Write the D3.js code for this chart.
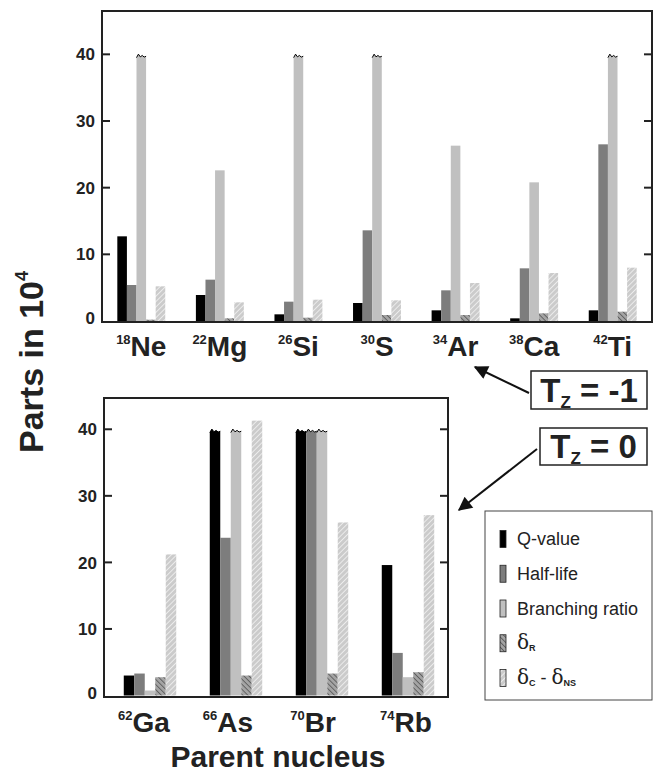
<!DOCTYPE html>
<html><head><meta charset="utf-8">
<script src="https://cdn.jsdelivr.net/npm/d3@7"></script>
<style>body{margin:0;background:#fff}svg{display:block}text{font-family:"Liberation Sans",Arial,sans-serif}</style>
</head><body>
<svg id="c" width="655" height="773"></svg>
<script>
// ---------- data ----------
const series = ["Q-value", "Half-life", "Branching ratio", "dR", "dC"];
const topMass = ["18", "22", "26", "30", "34", "38", "42"];
const topElem = ["Ne", "Mg", "Si", "S", "Ar", "Ca", "Ti"];
const topQ      = [12.7, 3.9, 1.0, 2.7, 1.6, 0.4, 1.6];
const topHalf   = [5.4, 6.2, 2.9, 13.6, 4.6, 7.9, 26.5];
const topBranch = [40, 22.6, 40, 40, 26.3, 20.8, 40];
const topDR     = [0.2, 0.4, 0.5, 0.9, 0.9, 1.15, 1.4];
const topDC     = [5.2, 2.8, 3.2, 3.1, 5.7, 7.2, 8.0];
// bars that run off the scale (drawn with a break mark)
const topOff = [["Ne", "Branching ratio"], ["Si", "Branching ratio"], ["S", "Branching ratio"], ["Ti", "Branching ratio"]];

const botMass = ["62", "66", "70", "74"];
const botElem = ["Ga", "As", "Br", "Rb"];
const botQ      = [3.0, 40, 40, 19.6];
const botHalf   = [3.3, 23.7, 40, 6.4];
const botBranch = [0.75, 40, 40, 2.75];
const botDR     = [2.75, 3.0, 3.3, 3.5];
const botDC     = [21.2, 41.3, 26.0, 27.1];
const botOff = [["As", "Q-value"], ["As", "Branching ratio"], ["Br", "Q-value"], ["Br", "Half-life"], ["Br", "Branching ratio"]];

const yTicks = [0, 10, 20, 30, 40];

// ---------- drawing ----------
const svg = d3.select("#c");
const defs = svg.append("defs");
function hatch(id, bg, fg, angle, sw, gap) {
  const p = defs.append("pattern").attr("id", id).attr("patternUnits", "userSpaceOnUse")
    .attr("width", gap).attr("height", gap).attr("patternTransform", `rotate(${angle})`);
  p.append("rect").attr("width", gap).attr("height", gap).attr("fill", bg);
  p.append("line").attr("x1", 0).attr("y1", 0).attr("x2", 0).attr("y2", gap)
    .attr("stroke", fg).attr("stroke-width", sw);
}
hatch("hR", "#a4a4a4", "#3a3a3a", -45, 1.2, 3.6);
hatch("hC", "#cbcbcb", "#f6f6f6", 45, 1.5, 3.8);
const fills = {"Q-value": "#000", "Half-life": "#7d7d7d", "Branching ratio": "#c0c0c0", "dR": "url(#hR)", "dC": "url(#hC)"};

function panel(o) {
  const g = svg.append("g");
  const x0 = d3.scaleBand().domain(o.elem).range(o.barRange).paddingInner(0.39).paddingOuter(0.195);
  const x1 = d3.scaleBand().domain(series).range([0, x0.bandwidth()]);
  const y = d3.scaleLinear().domain(o.yDomain).range([o.base, o.top]);
  const vals = {"Q-value": o.q, "Half-life": o.half, "Branching ratio": o.branch, "dR": o.dr, "dC": o.dc};
  const rows = [];
  o.elem.forEach((e, i) => series.forEach(s => {
    rows.push({e, s, v: vals[s][i], off: o.off.some(d => d[0] === e && d[1] === s)});
  }));
  const bw = x1.bandwidth();
  rows.forEach(d => {
    const xa = x0(d.e) + x1(d.s), xb = xa + bw;
    if (!d.off) {
      g.append("rect").attr("x", xa).attr("y", y(d.v)).attr("width", bw)
        .attr("height", y(0) - y(d.v)).attr("fill", fills[d.s]);
    } else {
      const yt = y(d.v - 0.5);
      const zz = [[xa, yt], [xa + bw * 0.2, yt - 3.5], [xa + bw * 0.4, yt - 0.8], [xa + bw * 0.6, yt - 2.2], [xa + bw * 0.8, yt - 0.6], [xb, yt - 1.4]];
      const body = [[xa, y(0)], ...zz, [xb, y(0)]];
      g.append("path").attr("d", d3.line()(body) + "Z").attr("fill", fills[d.s]);
      g.append("path").attr("d", d3.line()(zz)).attr("fill", "none").attr("stroke", "#000").attr("stroke-width", 1);
    }
  });
  g.append("rect").attr("x", o.L).attr("y", o.top).attr("width", o.R - o.L).attr("height", o.B - o.top)
    .attr("fill", "none").attr("stroke", "#222").attr("stroke-width", 2);
  const ticksIn = yTicks.filter(t => t > 0);
  g.selectAll(null).data(ticksIn).enter().append("line")
    .attr("x1", o.L).attr("x2", o.L + 8).attr("y1", d => y(d)).attr("y2", d => y(d)).attr("stroke", "#222").attr("stroke-width", 2);
  g.selectAll(null).data(ticksIn).enter().append("line")
    .attr("x1", o.R).attr("x2", o.R - 8).attr("y1", d => y(d)).attr("y2", d => y(d)).attr("stroke", "#222").attr("stroke-width", 2);
  g.selectAll(null).data(yTicks).enter().append("text")
    .attr("x", o.L - 7).attr("y", d => y(d) - (d === 0 ? 3 : 0)).attr("dy", "0.36em").attr("text-anchor", "end")
    .attr("font-size", 17).attr("font-weight", "bold").attr("fill", "#222").text(d => d);
  o.elem.forEach((e, i) => {
    const t = g.append("text").attr("x", x0(e) + x0.bandwidth() / 2 + (o.labDx ? o.labDx[i] : 0)).attr("y", o.labY)
      .attr("text-anchor", "middle").attr("font-weight", "bold").attr("fill", "#222");
    t.append("tspan").attr("font-size", 13).attr("dy", -12).text(o.mass[i]);
    t.append("tspan").attr("font-size", 28).attr("dy", 12).text(e);
  });
}

panel({elem: topElem, mass: topMass, q: topQ, half: topHalf, branch: topBranch, dr: topDR, dc: topDC, off: topOff,
  L: 102, R: 652, top: 11, B: 322, base: 321, yDomain: [0, 46.5], barRange: [102, 652], labY: 356});
panel({elem: botElem, mass: botMass, q: botQ, half: botHalf, branch: botBranch, dr: botDR, dc: botDC, off: botOff,
  L: 104, R: 448, top: 398, B: 697, base: 695.5, yDomain: [0, 44.7], barRange: [107, 451], labY: 732, labDx: [-6, -8, -9, -2]});

// axis titles
svg.append("text").attr("transform", "translate(43,362) rotate(-90)").attr("text-anchor", "middle")
  .attr("font-size", 34).attr("font-weight", "bold").attr("fill", "#222")
  .call(t => { t.append("tspan").text("Parts in 10"); t.append("tspan").attr("font-size", 18).attr("dy", -15).text("4"); });
svg.append("text").attr("x", 278).attr("y", 766.5).attr("text-anchor", "middle")
  .attr("font-size", 30).attr("font-weight", "bold").attr("fill", "#222").text("Parent nucleus");

// Tz boxes
function tzBox(x, yTop, w, h, val) {
  svg.append("rect").attr("x", x).attr("y", yTop).attr("width", w).attr("height", h)
    .attr("fill", "#fff").attr("stroke", "#222").attr("stroke-width", 1.5);
  const t = svg.append("text").attr("x", x + w / 2).attr("y", yTop + h - 7).attr("text-anchor", "middle")
    .attr("font-weight", "bold").attr("font-size", 33).attr("fill", "#222");
  t.append("tspan").text("T");
  t.append("tspan").attr("font-size", 17).attr("dy", 6).text("Z");
  t.append("tspan").attr("dy", -6).text(" = " + val);
}
tzBox(531, 371, 116, 38, "-1");
tzBox(540, 428, 107, 37, "0");

// arrows
defs.append("marker").attr("id", "ah").attr("viewBox", "0 0 10 10").attr("refX", 9).attr("refY", 5)
  .attr("markerWidth", 8).attr("markerHeight", 7).attr("orient", "auto").attr("markerUnits", "strokeWidth")
  .append("path").attr("d", "M0,0L10,5L0,10Z").attr("fill", "#111");
svg.append("line").attr("x1", 529).attr("y1", 393).attr("x2", 475).attr("y2", 367)
  .attr("stroke", "#111").attr("stroke-width", 2).attr("marker-end", "url(#ah)");
svg.append("line").attr("x1", 537).attr("y1", 449).attr("x2", 459).attr("y2", 510)
  .attr("stroke", "#111").attr("stroke-width", 2).attr("marker-end", "url(#ah)");

// legend
const lg = svg.append("g");
lg.append("rect").attr("x", 485).attr("y", 511).attr("width", 167).attr("height", 189)
  .attr("fill", "#fff").attr("stroke", "#444").attr("stroke-width", 1);
const legY = d3.scalePoint().domain(series).range([539, 678]);
series.forEach(s => {
  lg.append("rect").attr("x", 500).attr("y", legY(s) - 8.5).attr("width", 6).attr("height", 17)
    .attr("fill", fills[s]).attr("stroke", "#222").attr("stroke-width", 0.8);
  const t = lg.append("text").attr("x", 517).attr("y", legY(s) + 6).attr("font-size", 18).attr("fill", "#222");
  if (s === "dR") {
    t.append("tspan").attr("font-family", "DejaVu Serif").attr("font-size", 20).text("δ");
    t.append("tspan").attr("font-size", 9).attr("font-weight", "bold").attr("dy", 2).text("R");
  } else if (s === "dC") {
    t.append("tspan").attr("font-family", "DejaVu Serif").attr("font-size", 20).text("δ");
    t.append("tspan").attr("font-size", 9).attr("font-weight", "bold").attr("dy", 2).text("C");
    t.append("tspan").attr("dy", -2).text(" - ");
    t.append("tspan").attr("font-family", "DejaVu Serif").attr("font-size", 20).text("δ");
    t.append("tspan").attr("font-size", 9).attr("font-weight", "bold").attr("dy", 2).text("NS");
  } else t.text(s);
});
</script>
</body></html>
